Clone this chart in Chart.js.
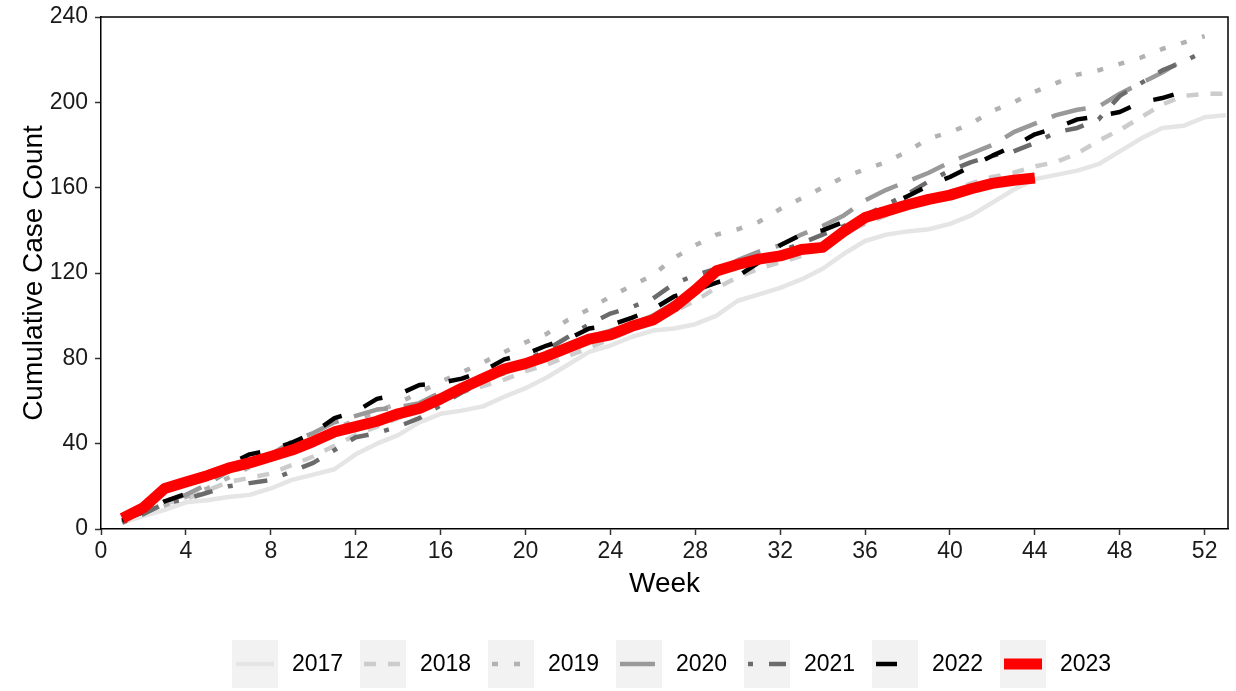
<!DOCTYPE html>
<html>
<head>
<meta charset="utf-8">
<script src="https://cdn.jsdelivr.net/npm/chart.js@4.4.1/dist/chart.umd.min.js"></script>
<style>
  html, body { margin: 0; padding: 0; background: #fff; }
  #wrap { width: 1236px; height: 691px; }
</style>
</head>
<body>
<div id="wrap"><canvas id="cases"></canvas></div>
<script>
const weeks = Array.from({ length: 53 }, (_, i) => i + 1);
const xTicks = [0, 4, 8, 12, 16, 20, 24, 28, 32, 36, 40, 44, 48, 52];
const yTicks = [0, 40, 80, 120, 160, 200, 240];
const years = ["2017", "2018", "2019", "2020", "2021", "2022", "2023"];

const y2017 = [3, 6, 9, 12.5, 13.5, 15, 16, 19, 23, 25.5, 28, 35, 40, 44, 50, 54, 55.5, 57.5, 62, 66,
  71, 77, 83, 86, 90, 93, 94, 96, 100, 107, 110, 113, 117, 122, 129, 135, 138, 139.5, 140.5, 143,
  147, 153, 159, 164, 166, 168, 171, 177, 183, 188, 189, 193, 194];
const y2018 = [3, 9, 12, 14, 18, 22, 24, 26, 30, 34, 39, 44, 48, 52, 56, 60, 64, 67, 70, 74,
  77, 81, 85, 89, 93, 97, 102, 107, 113, 118, 122, 125, 128, 133, 139, 143, 147, 151, 155, 158,
  162, 165, 167, 170, 172, 176, 182, 187, 193, 199, 203, 204, 204];
const y2019 = [4, 8, 11, 15, 19, 24, 29, 33, 37, 42, 47, 51, 55, 59, 64, 69, 73.5, 78, 83, 87.5,
  91.5, 98, 103, 109, 114, 119, 127, 133, 138, 140.5, 144, 150, 155, 160, 165, 168.5, 172, 177, 183, 186,
  190, 196, 200, 205, 209, 213, 215, 218, 221, 225, 228, 231];
const y2020 = [4, 9, 13, 16, 21, 27, 32, 35, 41, 45, 50, 53, 56, 57, 59, 64, 66, 70, 73, 77,
  81, 86, 90, 93, 96, 100, 106, 113, 121, 126, 130, 133, 138, 142, 147, 154, 159, 163, 167, 172,
  176, 180, 186, 190, 194, 196.5, 198, 204, 209, 214, 220];
const y2021 = [3, 7, 12, 14, 17, 20, 21.5, 23, 27, 31, 37, 43, 45, 48, 52, 58, 64, 69, 74, 79,
  84, 90, 96, 101, 104, 108, 115, 119, 122, 123, 126, 130, 134, 138, 142, 147, 152, 157, 163, 168,
  172, 175, 177, 181, 186, 188, 192, 203, 209, 215, 219, 224];
const y2022 = [4, 8, 13, 16.5, 26, 30, 35, 37, 40.5, 45, 52, 55, 61, 63, 67.5, 68.5, 70.5, 74, 79.5, 82,
  86, 89, 94, 95.5, 99, 103, 109, 112, 115.5, 118.5, 125, 133, 138, 140, 144, 146, 151, 156, 161, 165,
  170, 175, 179.5, 185, 188, 192, 193.5, 195.5, 200, 202, 205];
const y2023 = [5, 10, 19, 22, 25, 28.5, 31, 34, 37, 41, 45.5, 48, 50.5, 54, 56.5, 61, 66, 70.5, 75, 77.5,
  81, 85, 89, 91, 95, 98, 104, 112, 121, 124, 126.5, 128, 131, 132, 139.5, 146, 149, 152, 154.5, 156.5,
  159.5, 162, 163.5, 164.5];

const series = [y2017, y2018, y2019, y2020, y2021, y2022, y2023];
const colors = ["#e5e5e5", "#cccccc", "#b2b2b2", "#999999", "#6b6b6b", "#000000", "#ff0000"];
const dashes = [[], [12, 12], [6, 16], [35, 16], [5, 16, 19, 16], [21, 24], []];
const widths = [4.5, 4.5, 4.5, 4.5, 4.5, 4.5, 11];

const toPoints = (vals) => vals.map((v, i) => ({ x: weeks[i], y: v }));

// top/right panel border + bottom legend with grey key boxes
const panelAndLegend = {
  id: "panelAndLegend",
  afterDraw(chart) {
    const { ctx, chartArea: a } = chart;
    ctx.save();
    ctx.strokeStyle = "#000";
    ctx.lineWidth = 1.5;
    ctx.beginPath();
    ctx.moveTo(a.left, a.top);
    ctx.lineTo(a.right, a.top);
    ctx.lineTo(a.right, a.bottom);
    ctx.stroke();

    const x0 = 232, step = 128, boxW = 46, boxTop = 640, boxH = 48;
    const midY = boxTop + boxH / 2;
    ctx.font = "23px 'Liberation Sans', Arial, sans-serif";
    ctx.textBaseline = "middle";
    ctx.textAlign = "left";
    years.forEach((yr, i) => {
      const bx = x0 + i * step;
      ctx.fillStyle = "#f2f2f2";
      ctx.fillRect(bx, boxTop, boxW, boxH);
      ctx.save();
      ctx.beginPath();
      ctx.rect(bx, boxTop, boxW, boxH);
      ctx.clip();
      ctx.strokeStyle = colors[i];
      ctx.lineWidth = widths[i];
      ctx.lineCap = "butt";
      ctx.setLineDash(dashes[i]);
      ctx.beginPath();
      ctx.moveTo(bx + 4, midY);
      ctx.lineTo(bx + boxW - 4, midY);
      ctx.stroke();
      ctx.restore();
      ctx.fillStyle = "#000";
      ctx.fillText(yr, bx + boxW + 14, midY + 1);
    });
    ctx.restore();
  }
};

const ctx = document.getElementById("cases").getContext("2d");

new Chart(ctx, {
  type: "line",
  data: {
    datasets: series.map((vals, i) => ({
      label: years[i],
      data: toPoints(vals),
      borderColor: colors[i],
      borderWidth: widths[i],
      borderDash: dashes[i],
      borderCapStyle: "butt",
      borderJoinStyle: "round",
      pointRadius: 0,
      tension: 0,
      fill: false,
      order: series.length - 1 - i
    }))
  },
  options: {
    responsive: true,
    maintainAspectRatio: false,
    animation: false,
    layout: { autoPadding: false, padding: { top: 17, right: 8, bottom: 0, left: 0 } },
    plugins: {
      legend: { display: false },
      tooltip: { enabled: false }
    },
    scales: {
      x: {
        type: "linear",
        min: 0,
        max: 53.1,
        afterBuildTicks: (scale) => {
          scale.ticks = xTicks.map((v) => ({ value: v }));
        },
        afterFit: (scale) => {
          scale.height = 162;
          scale.paddingLeft = 0;
          scale.paddingRight = 0;
        },
        ticks: {
          autoSkip: false,
          maxRotation: 0,
          padding: 3,
          color: "#1a1a1a",
          font: { family: "'Liberation Sans', Arial, sans-serif", size: 23 }
        },
        grid: {
          drawOnChartArea: false,
          drawTicks: true,
          tickLength: 6,
          tickWidth: 1.5,
          tickColor: "#333"
        },
        border: { color: "#000", width: 1.5 },
        title: {
          display: true,
          text: "Week",
          color: "#000",
          padding: { top: 0, bottom: 90 },
          font: { family: "'Liberation Sans', Arial, sans-serif", size: 28 }
        }
      },
      y: {
        min: 0,
        max: 240,
        afterBuildTicks: (scale) => {
          scale.ticks = yTicks.map((v) => ({ value: v }));
        },
        afterFit: (scale) => {
          scale.width = 101;
          scale.paddingTop = 0;
          scale.paddingBottom = 0;
        },
        ticks: {
          padding: 7,
          color: "#1a1a1a",
          font: { family: "'Liberation Sans', Arial, sans-serif", size: 23 }
        },
        grid: {
          drawOnChartArea: false,
          drawTicks: true,
          tickLength: 6,
          tickWidth: 1.5,
          tickColor: "#333"
        },
        border: { color: "#000", width: 1.5 },
        title: {
          display: true,
          text: "Cumulative Case Count",
          color: "#000",
          padding: { top: 17, bottom: 0 },
          font: { family: "'Liberation Sans', Arial, sans-serif", size: 28 }
        }
      }
    }
  },
  plugins: [panelAndLegend]
});
</script>
</body>
</html>
